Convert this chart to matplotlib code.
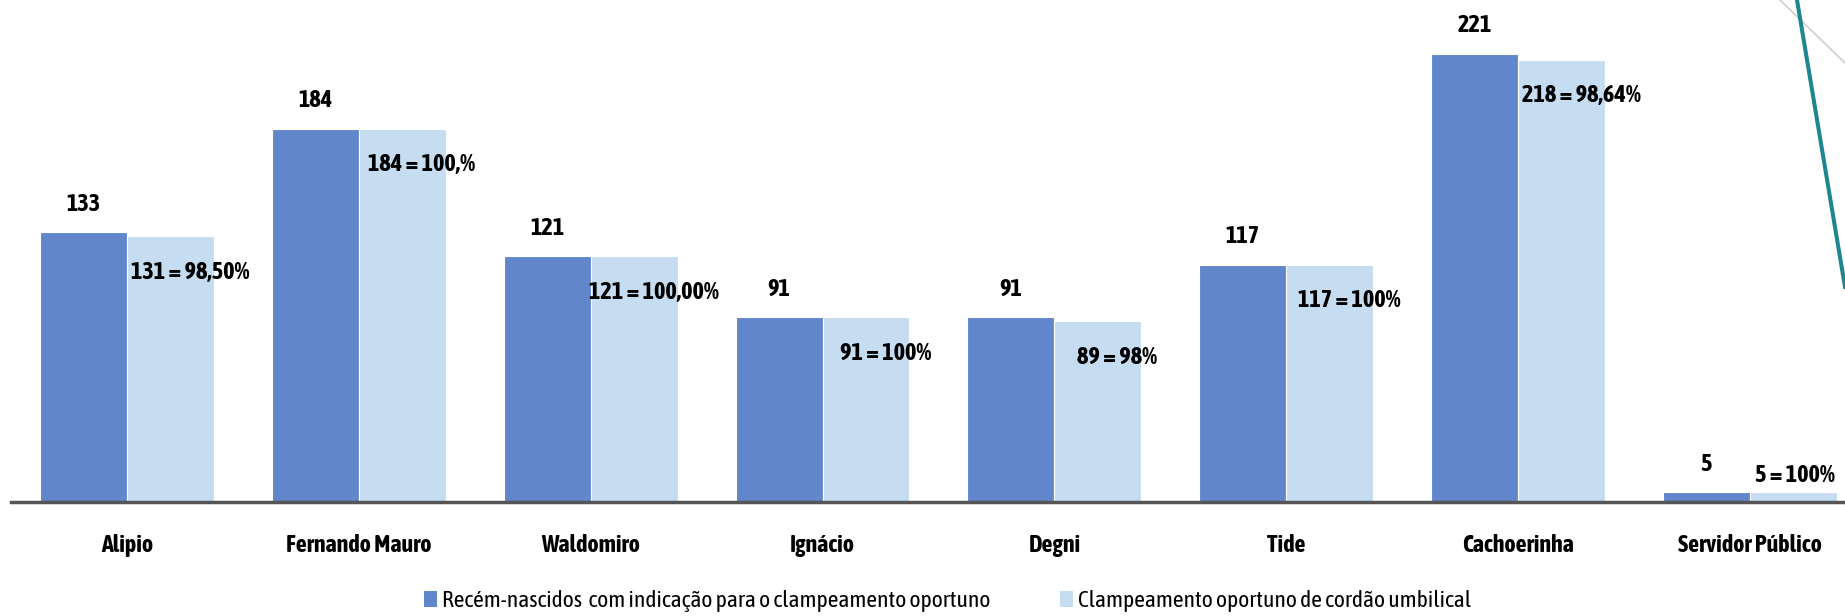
import matplotlib
matplotlib.use("Agg")
import matplotlib.pyplot as plt
from matplotlib.patches import Patch
from matplotlib.lines import Line2D

categories = ["Alipio", "Fernando Mauro", "Waldomiro", "Ignácio", "Degni",
              "Tide", "Cachoerinha", "Servidor Público"]
indicados = [133, 184, 121, 91, 91, 117, 221, 5]
clampeados = [131, 184, 121, 91, 89, 117, 218, 5]
clamp_labels = ["131 = 98,50%", "184 = 100,%", "121 = 100,00%", "91 = 100%",
                "89 = 98%", "117 = 100%", "218 = 98,64%", "5 = 100%"]
series_names = ["Recém-nascidos  com indicação para o clampeamento oportuno",
                "Clampeamento oportuno de cordão umbilical"]

plt.rcParams["font.family"] = ["Asap Condensed", "DejaVu Sans"]
plt.rcParams["font.stretch"] = "condensed"

DARK = "#6286cc"
LIGHT = "#c6ddf1"

fig = plt.figure(figsize=(18.45, 6.16), dpi=100)
ax = fig.add_axes([0.006, 0.185, 0.994, 0.815])

w = 0.375
x = list(range(len(categories)))
b1 = ax.bar([i - w / 2 for i in x], indicados, width=w, color=DARK,
            edgecolor="white", linewidth=0.8, label=series_names[0])
b2 = ax.bar([i + w / 2 for i in x], clampeados, width=w, color=LIGHT,
            edgecolor="white", linewidth=0.8, label=series_names[1])

ax.set_xlim(-0.5, 7.41)
ax.set_ylim(0, 247.4)

for rect, v in zip(b1, indicados):
    ax.annotate(str(v), (rect.get_x() + rect.get_width() / 2, v),
                xytext=(0, 20), textcoords="offset points",
                ha="center", va="center", fontsize=17.5, fontweight="bold")

for rect, v, lab in zip(b2, clampeados, clamp_labels):
    cx = rect.get_x() + rect.get_width() / 2
    off = (1, 12) if v < 20 else (14, -26)
    ax.annotate(lab, (cx, v), xytext=off, textcoords="offset points",
                ha="center", va="center", fontsize=17.5, fontweight="bold",
                annotation_clip=False)

ax.set_xticks(x)
ax.set_xticklabels(categories, fontsize=17.3, fontweight="bold", va="center")
ax.tick_params(axis="x", length=0, pad=31.5)
ax.set_yticks([])
for s in ("left", "right", "top"):
    ax.spines[s].set_visible(False)
ax.spines["bottom"].set_color("#555555")
ax.spines["bottom"].set_linewidth(2.5)
ax.patch.set_alpha(0)

handles = [Patch(facecolor=DARK, edgecolor="none"),
           Patch(facecolor=LIGHT, edgecolor="none")]
fig.legend(handles, series_names, loc="center", bbox_to_anchor=(0.5136, 0.024),
           ncol=2, frameon=False, fontsize=16.9, handlelength=0.55,
           handleheight=0.72, handletextpad=0.22, columnspacing=2.95,
           borderpad=0.1)

# decorative slide strokes in the upper-right corner
fig.add_artist(Line2D([1780 / 1845, 1.0], [1.0, 1 - 63 / 616],
                      color="#cfcfcf", linewidth=1.2, transform=fig.transFigure))
fig.add_artist(Line2D([1797 / 1845, 1.0], [1.0, 1 - 287 / 616],
                      color="#1f8690", linewidth=2.9, transform=fig.transFigure))

fig.savefig("out.png", dpi=100)
